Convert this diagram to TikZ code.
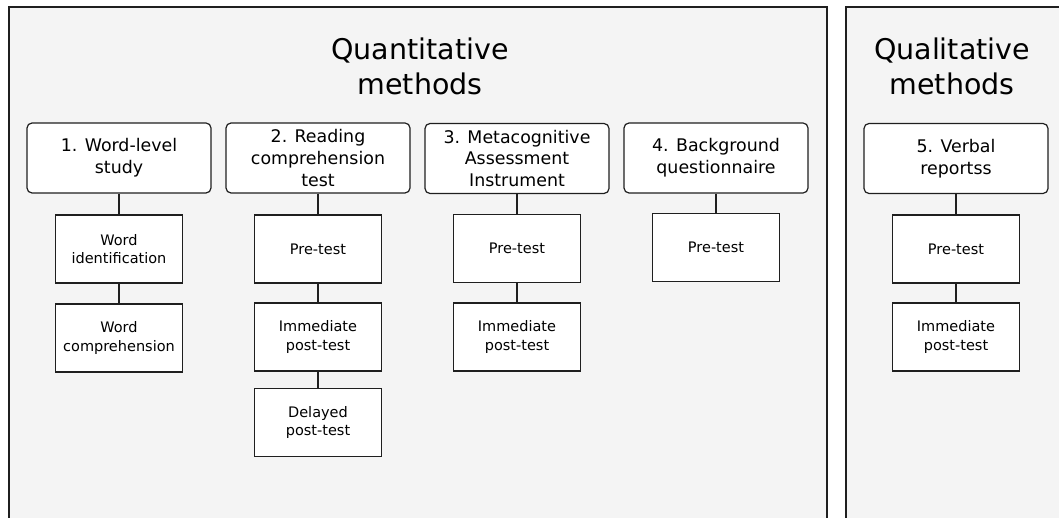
\documentclass[tikz,border=0pt]{standalone}
\usepackage{fontspec}
\setmainfont{DejaVu Sans}
\begin{document}
\begin{tikzpicture}[x=1pt,y=-1pt,
  ink/.style={draw=black!88, line width=1.2pt},
  panel/.style={fill=black!4.5},
  head/.style={ink, fill=white, rounded corners=5pt, rectangle,
    minimum width=184pt, minimum height=70pt, inner sep=0pt, align=center,
    font=\fontsize{17.4}{21.7}\selectfont},
  sub/.style={ink, fill=white, rectangle,
    minimum width=127pt, minimum height=68pt, inner sep=0pt, align=center,
    font=\fontsize{14.5}{18.3}\selectfont},
  title/.style={align=center, inner sep=0pt, font=\fontsize{28.5}{35}\selectfont},
  link/.style={ink}]
\useasboundingbox (0,0) rectangle (1059,518);
\clip (0,0) rectangle (1059,518);

% panels
\fill[panel] (9,7) rectangle (827,530);
\draw[draw=black!88, line width=1.5pt] (9,530) -- (9,7) -- (827,7) -- (827,530);
\fill[panel] (846,7) rectangle (1070,530);
\draw[draw=black!88, line width=1.5pt] (846,530) -- (846,7) -- (1070,7);

% titles
\node[title] (tquant) at (420,66) {Quantitative\\methods};
\node[title] (tqual) at (952,66) {Qualitative\\methods};

% method boxes
\node[head] (h1) at (119,158) {1. Word-level\\study};
\node[head] (h2) at (318,158) {2. Reading\\comprehension\\test};
\node[head] (h3) at (517,158.5) {3. Metacognitive\\Assessment\\Instrument};
\node[head] (h4) at (716,158) {4. Background\\questionnaire};
\node[head] (h5) at (956,158.5) {5. Verbal\\reportss};

% measurement boxes
\node[sub] (w1) at (119,249) {Word\\identification};
\node[sub] (w2) at (119,338) {Word\\comprehension};
\node[sub] (r1) at (318,249) {Pre-test};
\node[sub] (r2) at (318,337) {Immediate\\post-test};
\node[sub] (r3) at (318,422.5) {Delayed\\post-test};
\node[sub] (m1) at (517,248.5) {Pre-test};
\node[sub] (m2) at (517,337) {Immediate\\post-test};
\node[sub] (b1) at (716,247.5) {Pre-test};
\node[sub] (v1) at (956,249) {Pre-test};
\node[sub] (v2) at (956,337) {Immediate\\post-test};

% connectors
\draw[link] (h1.south) -- (w1.north);
\draw[link] (w1.south) -- (w2.north);
\draw[link] (h2.south) -- (r1.north);
\draw[link] (r1.south) -- (r2.north);
\draw[link] (r2.south) -- (r3.north);
\draw[link] (h3.south) -- (m1.north);
\draw[link] (m1.south) -- (m2.north);
\draw[link] (h4.south) -- (b1.north);
\draw[link] (h5.south) -- (v1.north);
\draw[link] (v1.south) -- (v2.north);
\end{tikzpicture}
\end{document}
